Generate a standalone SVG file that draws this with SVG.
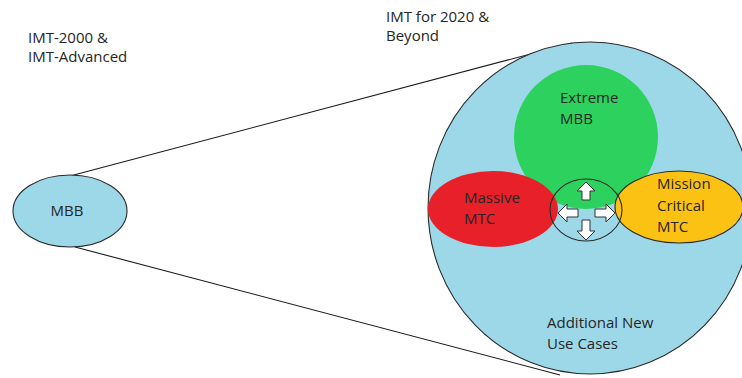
<svg xmlns="http://www.w3.org/2000/svg" width="742" height="378" viewBox="0 0 742 378">
  <style>
    text { font-family: "Open Sans", "Liberation Sans", sans-serif; font-size: 15px; fill: #262626; }
    .outline { stroke: #2a2a2a; stroke-width: 1.1; }
    .conn { stroke: #1a1a1a; stroke-width: 1.1; fill: none; }
    .arrow { fill: #ffffff; stroke: #333333; stroke-width: 1; stroke-linejoin: miter; }
  </style>
  <rect width="742" height="378" fill="#ffffff"/>

  <!-- lines fanning out from MBB to the large set -->
  <g id="connectors">
    <line class="conn" x1="70" y1="176" x2="572" y2="43"/>
    <line class="conn" x1="75" y1="247" x2="560" y2="375"/>
  </g>

  <!-- headline labels -->
  <g id="label-imt2000">
    <text x="28" y="43">IMT-2000 &amp;</text>
    <text x="28" y="62">IMT-Advanced</text>
  </g>
  <g id="label-imt2020">
    <text x="386" y="22">IMT for 2020 &amp;</text>
    <text x="386" y="41">Beyond</text>
  </g>

  <!-- existing use case -->
  <g id="mbb">
    <ellipse class="outline" cx="70" cy="211" rx="57" ry="36" fill="#9dd8e8"/>
    <text x="67" y="216" text-anchor="middle">MBB</text>
  </g>

  <!-- envelope of new use cases -->
  <g id="new-use-cases">
    <ellipse class="outline" cx="590" cy="208" rx="162" ry="166" fill="#9dd8e8"/>
    <text x="547" y="328">Additional New</text>
    <text x="547" y="349">Use Cases</text>
  </g>

  <g id="extreme-mbb">
    <circle cx="586" cy="137" r="72" fill="#2dd15d"/>
    <text x="560" y="103">Extreme</text>
    <text x="560" y="124">MBB</text>
  </g>

  <g id="massive-mtc">
    <ellipse cx="493" cy="209" rx="65" ry="38" fill="#e8202a"/>
    <text x="464" y="203">Massive</text>
    <text x="464" y="224">MTC</text>
  </g>

  <g id="mission-critical-mtc">
    <ellipse class="outline" cx="679" cy="207" rx="64" ry="36" fill="#fcc213"/>
    <text x="657" y="189">Mission</text>
    <text x="657" y="211">Critical</text>
    <text x="657" y="232">MTC</text>
  </g>

  <!-- overlap hub with four outward arrows -->
  <g id="hub">
    <ellipse class="outline" cx="586" cy="210" rx="36" ry="31" fill="none"/>
    <path class="arrow" d="M586,182 L595,191 L590,191 L590,200 L582,200 L582,191 L577,191 Z"/>
    <path class="arrow" d="M586,240 L595,231 L590,231 L590,220 L582,220 L582,231 L577,231 Z"/>
    <path class="arrow" d="M558,213 L567,204 L567,209 L578,209 L578,217 L567,217 L567,222 Z"/>
    <path class="arrow" d="M615,213 L606,204 L606,209 L595,209 L595,217 L606,217 L606,222 Z"/>
  </g>
</svg>
